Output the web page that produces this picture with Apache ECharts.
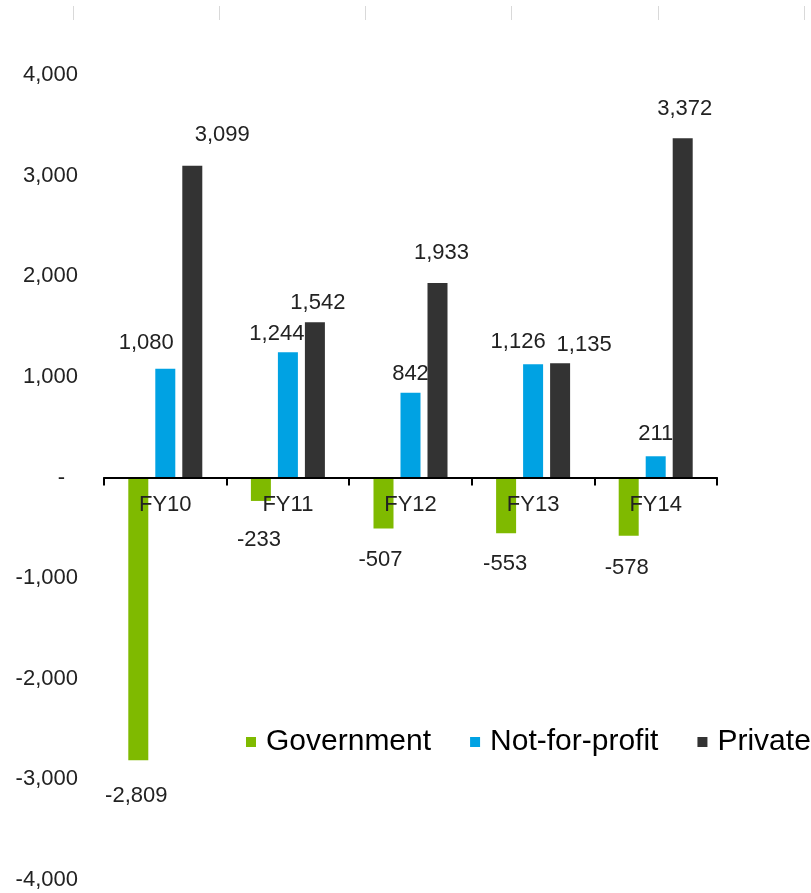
<!DOCTYPE html>
<html>
<head>
<meta charset="utf-8">
<script src="https://cdn.jsdelivr.net/npm/echarts@6/dist/echarts.min.js"></script>
<style>
    html, body { margin: 0; padding: 0; background: #fff; }
    #chart { width: 811px; height: 893px; }
</style>
</head>
<body>
<div id="chart"></div>
<script>
// data
const years = ['FY10', 'FY11', 'FY12', 'FY13', 'FY14']
const government = [-2809, -233, -507, -553, -578]
const notForProfit = [1080, 1244, 842, 1126, 211]
const privateSector = [3099, 1542, 1933, 1135, 3372]
const seriesNames = ['Government', 'Not-for-profit', 'Private']
const yTicks = { min: -4000, max: 4000, step: 1000 }
const topSlots = ['', '', '', '', '']

// label nudges, the source had hand-placed labels
const govOffsets = [[-2, 24], [-2, 27], [-3, 19], [-1, 19], [-2, 20]]
const nfpOffsets = [[-19, -14], [-11, -6], [0, -7], [-15, -10], [0, -10]]
const privOffsets = [[30, -19], [3, -7], [4, -18], [24, -6], [2, -17]]

const colors = ['#7FBA00', '#00A2E3', '#333333']
const font = 'Liberation Sans, Arial, sans-serif'

// grid box (px), x axis is pulled up to the zero line with offset
const gridTop = 75
const gridBottom = 13
const plotH = 893 - gridTop - gridBottom
const zeroShift = -plotH * (0 - yTicks.min) / (yTicks.max - yTicks.min)

function fmt(v) {
    return v.toLocaleString('en-US')
}

function withLabels(values, offsets) {
    return values.map((v, i) => ({
        value: v,
        label: {
            position: v < 0 ? 'bottom' : 'top',
            offset: offsets[i]
        }
    }))
}

function makeSeries(name, values, offsets, color) {
    return {
        name: name,
        type: 'bar',
        xAxisIndex: 0,
        yAxisIndex: 0,
        barWidth: 20,
        barGap: '35%',
        itemStyle: { color: color },
        label: {
            show: true,
            distance: 0,
            color: '#222',
            fontSize: 22,
            lineHeight: 24,
            fontFamily: font,
            formatter: p => fmt(p.value)
        },
        data: withLabels(values, offsets)
    }
}

const chart = echarts.init(document.getElementById('chart'))
const option = {
    animation: false,
    legend: {
        left: 246,
        top: 727,
        width: 700,
        padding: 0,
        itemWidth: 10,
        itemHeight: 10,
        itemGap: 39,
        icon: 'rect',
        data: seriesNames,
        textStyle: {
            color: '#000',
            fontSize: 30,
            fontFamily: font,
            padding: [0, 0, 0, 5]
        }
    },
    grid: [
        { left: 104, right: 94, top: gridTop, bottom: gridBottom, containLabel: false, outerBoundsMode: 'none' },
        { left: 73, right: 7, top: 6, height: 20, containLabel: false, outerBoundsMode: 'none' }
    ],
    xAxis: [
        {
            type: 'category',
            gridIndex: 0,
            data: years,
            z: 3,
            offset: zeroShift,
            axisLine: { show: true, onZero: false, lineStyle: { color: '#000', width: 2 } },
            axisTick: { show: true, length: 8, lineStyle: { color: '#000', width: 2 } },
            axisLabel: {
                color: '#222',
                fontSize: 22,
                fontFamily: font,
                margin: 16
            }
        },
        {
            // faint tick row along the top edge
            type: 'category',
            gridIndex: 1,
            position: 'top',
            data: topSlots,
            axisLine: { show: false, onZero: false },
            axisTick: { show: true, inside: true, length: 14, lineStyle: { color: '#d9d9d9', width: 1 } },
            axisLabel: { show: false }
        }
    ],
    yAxis: [
        {
            type: 'value',
            gridIndex: 0,
            min: yTicks.min,
            max: yTicks.max,
            interval: yTicks.step,
            axisLine: { show: false },
            axisTick: { show: false },
            splitLine: { show: false },
            axisLabel: {
                margin: 26,
                color: '#222',
                fontSize: 22,
                fontFamily: font,
                formatter: v => v === 0 ? '{z|-}' : fmt(v),
                rich: {
                    z: { fontSize: 22, fontFamily: font, color: '#222', padding: [0, 13, 0, 0] }
                }
            }
        },
        {
            type: 'value',
            gridIndex: 1,
            show: false
        }
    ],
    series: [
        makeSeries(seriesNames[0], government, govOffsets, colors[0]),
        makeSeries(seriesNames[1], notForProfit, nfpOffsets, colors[1]),
        makeSeries(seriesNames[2], privateSector, privOffsets, colors[2])
    ]
}
chart.setOption(option)
</script>
</body>
</html>
